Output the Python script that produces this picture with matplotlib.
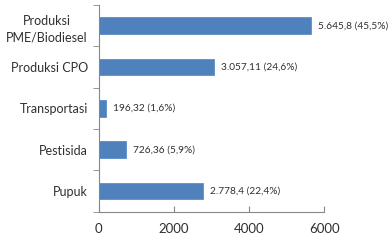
import matplotlib
matplotlib.use('Agg')
import matplotlib.pyplot as plt

# categories bottom to top
categories = ['Pupuk', 'Pestisida', 'Transportasi', 'Produksi CPO', 'Produksi\nPME/Biodiesel']
values = [2778.4, 726.36, 196.32, 3057.11, 5645.8]
labels = ['2.778,4 (22,4%)', '726,36 (5,9%)', '196,32 (1,6%)', '3.057,11 (24,6%)', '5.645,8 (45,5%)']

plt.rcParams['font.family'] = ['Lato', 'DejaVu Sans']
text_col = '#303030'
axis_col = '#868686'

fig = plt.figure(figsize=(3.91, 2.52), dpi=100)
ax = fig.add_axes([0.253, 0.16, 0.576, 0.82])

y = range(len(categories))
ax.barh(y, values, height=0.4, color='#4F81BD', edgecolor='#5B8FCB', linewidth=0.6)
for i, (v, lab) in enumerate(zip(values, labels)):
    ax.annotate(lab, (v, i), xytext=(5, 0), textcoords='offset points',
                va='center', ha='left', fontsize=7.3, color=text_col)

ax.set_xlim(0, 6000)
ax.set_ylim(-0.5, len(categories) - 0.5)
ax.set_xticks([0, 2000, 4000, 6000])
ax.set_yticks(list(y))
ax.set_yticklabels(categories, fontsize=9, color=text_col, linespacing=1.5)
ax.get_yticklabels()[-1].set_multialignment('center')
ax.tick_params(axis='x', labelsize=9.5, labelcolor=text_col, direction='in',
               length=4, color=axis_col, pad=8)
ax.tick_params(axis='y', length=0, pad=8)
# category boundary ticks
ax.set_yticks([i - 0.5 for i in range(len(categories) + 1)], minor=True)
ax.tick_params(axis='y', which='minor', length=4, color=axis_col, direction='out')

for s in ['top', 'right']:
    ax.spines[s].set_visible(False)
for s in ['left', 'bottom']:
    ax.spines[s].set_color(axis_col)
    ax.spines[s].set_linewidth(0.8)

fig.savefig('out.png', dpi=100)
